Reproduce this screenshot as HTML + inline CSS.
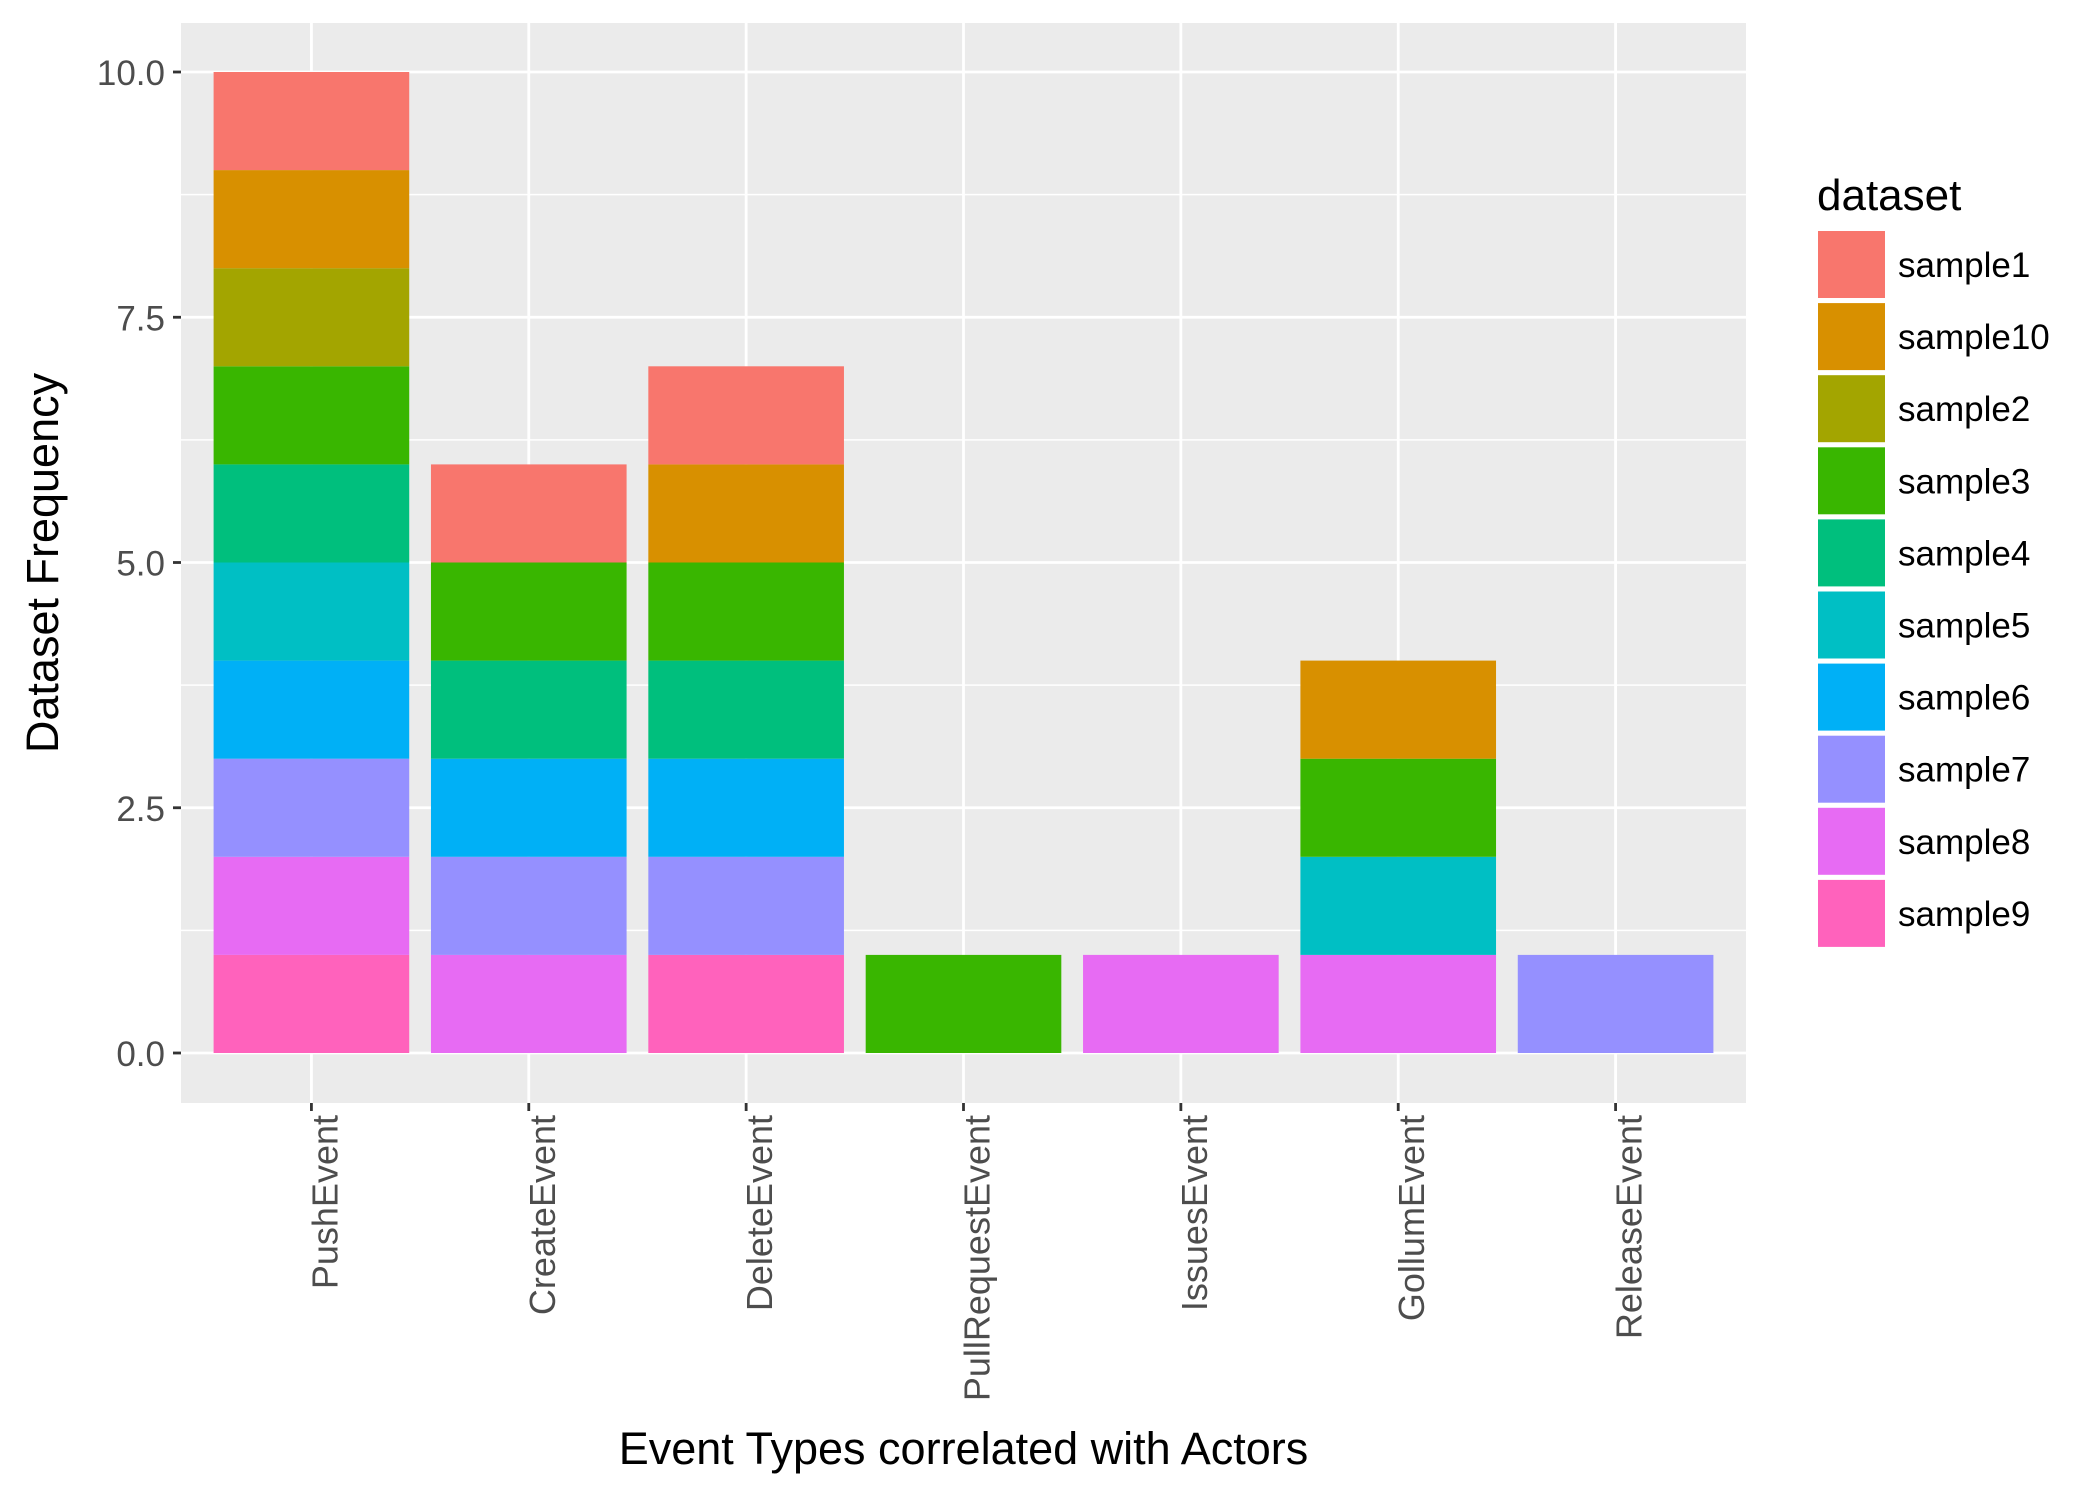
<!DOCTYPE html>
<html><head><meta charset="utf-8"><style>body{margin:0;background:#fff}svg{display:block}text{font-family:"Liberation Sans",sans-serif}</style></head>
<body>
<svg id="chart" width="2100" height="1499"></svg>
<script>
const categories=["PushEvent","CreateEvent","DeleteEvent","PullRequestEvent","IssuesEvent","GollumEvent","ReleaseEvent"];
const seriesNames=["sample1","sample10","sample2","sample3","sample4","sample5","sample6","sample7","sample8","sample9"];
const seriesColors=["#F8766D","#D89000","#A3A500","#39B600","#00BF7D","#00BFC4","#00B0F6","#9590FF","#E76BF3","#FF62BC"];
const sample1=[1,1,1,0,0,0,0];
const sample10=[1,0,1,0,0,1,0];
const sample2=[1,0,0,0,0,0,0];
const sample3=[1,1,1,1,0,1,0];
const sample4=[1,1,1,0,0,0,0];
const sample5=[1,0,0,0,0,1,0];
const sample6=[1,1,1,0,0,0,0];
const sample7=[1,1,1,0,0,0,1];
const sample8=[1,1,0,0,1,1,0];
const sample9=[1,0,1,0,0,0,0];
const seriesValues=[sample1,sample10,sample2,sample3,sample4,sample5,sample6,sample7,sample8,sample9];
const yTicks=[0,2.5,5,7.5,10];
const yTickLabels=["0.0","2.5","5.0","7.5","10.0"];

const NS="http://www.w3.org/2000/svg";
const svg=document.getElementById('chart');
const P={l:181,r:1746,t:23,b:1103};
const y0=1053,y10=72;
const y=v=>y0-(y0-y10)*v/10;
const step=(P.r-P.l)/(categories.length+0.2);
const x=i=>P.l+step*0.6+step*i;
const bw=step*0.9;
function mk(tag,attrs,parent){const e=document.createElementNS(NS,tag);for(const k in attrs)e.setAttribute(k,attrs[k]);(parent||svg).appendChild(e);return e;}
const bg=mk('rect',{x:P.l,y:P.t,width:P.r-P.l,height:P.b-P.t,fill:'#EBEBEB'});


for(let i=0;i<yTicks.length-1;i++){const m=(yTicks[i]+yTicks[i+1])/2;
 const g=mk('line',{x1:P.l,x2:P.r,y1:y(m),y2:y(m),stroke:'#fff','stroke-width':1.4});
 
 }
yTicks.forEach((t,i)=>{
 const g=mk('line',{x1:P.l,x2:P.r,y1:y(t),y2:y(t),stroke:'#fff','stroke-width':2.8});
 
 
 const tk=mk('line',{x1:P.l-8,x2:P.l,y1:y(t),y2:y(t),stroke:'#333','stroke-width':2.8});
 
 
 const tx=mk('text',{x:P.l-16,y:y(t)+13,'text-anchor':'end','font-size':35,fill:'#4D4D4D'});
 tx.textContent=yTickLabels[i];
 
 
});
categories.forEach((c,i)=>{
 const g=mk('line',{x1:x(i),x2:x(i),y1:P.t,y2:P.b,stroke:'#fff','stroke-width':2.8});
 
 
});
categories.forEach((c,i)=>{
 let acc=0;
 for(let s=seriesNames.length-1;s>=0;s--){
  const v=seriesValues[s][i]; if(!v) continue;
  const r=mk('rect',{x:x(i)-bw/2,y:y(acc+v),width:bw,height:y(acc)-y(acc+v),fill:seriesColors[s]});
  
  
  acc+=v;
 }
 const tk=mk('line',{x1:x(i),x2:x(i),y1:P.b,y2:P.b+8,stroke:'#333','stroke-width':2.8});
 
 
 const tx=mk('text',{x:0,y:0,'text-anchor':'end','font-size':36,fill:'#4D4D4D',transform:`translate(${x(i)+26},${P.b+12}) rotate(-90)`});
 tx.textContent=c;
 
 
});
const xt=mk('text',{x:(P.l+P.r)/2,y:1464,'text-anchor':'middle','font-size':45,fill:'#000'});
xt.textContent='Event Types correlated with Actors';


const yt=mk('text',{x:0,y:0,'text-anchor':'middle','font-size':45,fill:'#000',transform:`translate(58,${(P.t+P.b)/2}) rotate(-90)`});
yt.textContent='Dataset Frequency';


const lt=mk('text',{x:1817,y:210,'font-size':44,fill:'#000'});
lt.textContent='dataset';


seriesNames.forEach((n,i)=>{
 const yy=231+i*72.1;
 const r=mk('rect',{x:1818,y:yy,width:67,height:67,fill:seriesColors[i]});
 
 
 const t=mk('text',{x:1898,y:yy+46,'font-size':35,fill:'#000'});
 t.textContent=n;
 
 
});
</script>
</body></html>
